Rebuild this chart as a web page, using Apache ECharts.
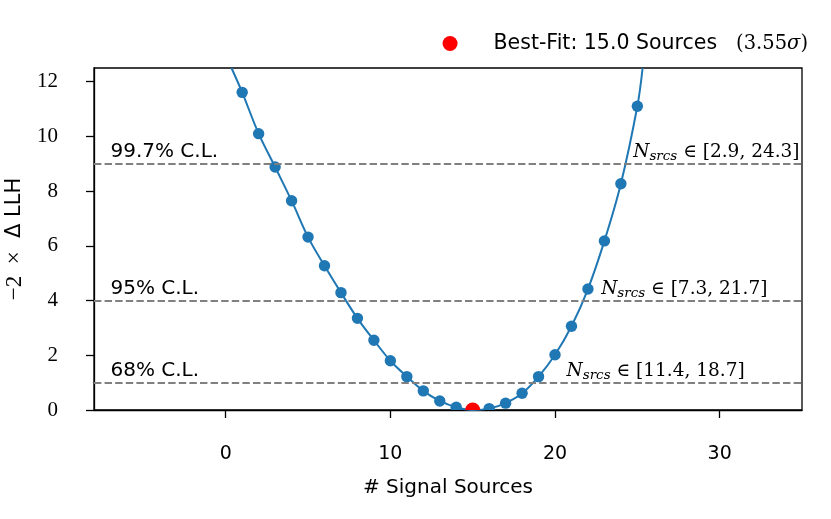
<!DOCTYPE html>
<html><head><meta charset="utf-8">
<script src="https://cdn.jsdelivr.net/npm/echarts@6/dist/echarts.min.js"></script>
<style>html,body{margin:0;padding:0;background:#fff}#c{width:831px;height:519px}</style>
</head><body><div id="c"></div>
<script>
// ---- data ----
const nSources = [1,2,3,4,5,6,7,8,9,10,11,12,13,14,15,16,17,18,19,20,21,22,23,24,25];
const llh = [11.61,10.10,8.88,7.65,6.32,5.27,4.29,3.35,2.55,1.80,1.22,0.70,0.33,0.10,0.00,0.05,0.25,0.61,1.22,2.02,3.06,4.42,6.18,8.27,11.10];
const curveStart = [0.35, 12.5];   // where the fitted curve leaves the top of the frame
const curveEnd = [25.32, 12.5];
const bestFit = [15.0, 0.0];
const significance = '3.55';
const clLevels = [1, 4, 9];
const clNames = ['68% C.L.', '95% C.L.', '99.7% C.L.'];
const clLow = [11.4, 7.3, 2.9];
const clHigh = [18.7, 21.7, 24.3];
const xTicks = [0, 10, 20, 30];
const yTicks = [0, 2, 4, 6, 8, 10, 12];

// ---- layout/style constants ----
const BLUE = '#1f77b4';
const leftLabelX = -7;
const rightLabelX = [20.7, 22.8, 24.75];
const labelLift = 0.2;

const chart = echarts.init(document.getElementById('c'));
const curveData = [curveStart].concat(nSources.map((x, i) => [x, llh[i]])).concat([curveEnd]);

const option = {
  animation: false,
  backgroundColor: '#fff',
  grid: {left: 94, right: 29, top: 68, bottom: 109, outerBoundsMode: 'none', containLabel: false,
         show: true, borderColor: '#000', borderWidth: 1.3, backgroundColor: 'transparent'},
  legend: {
    right: 18, top: 28, selectedMode: false,
    itemWidth: 15, itemHeight: 15,
    data: [{name: 'bestfit', icon: 'circle'}],
    formatter: () => '{sp|}Best-Fit: 15.0 Sources{g|}{m|(' + significance + '}{i|σ}{m|)}',
    textStyle: {
      fontFamily: 'DejaVu Sans', fontSize: 20.5, color: '#000',
      rich: {
        sp: {width: 31},
        g: {width: 19},
        m: {fontFamily: 'DejaVu Serif', fontSize: 19.5, color: '#000'},
        i: {fontFamily: 'DejaVu Serif', fontStyle: 'italic', fontSize: 19.5, color: '#000'}
      }
    }
  },
  xAxis: {
    type: 'value', min: -8, max: 35,
    axisLine: {show: true, onZero: false, lineStyle: {color: '#000', width: 1.3}},
    axisTick: {show: true, customValues: xTicks, length: 8, lineStyle: {color: '#000', width: 1.3}},
    axisLabel: {customValues: xTicks, margin: 35, fontFamily: 'DejaVu Sans', fontSize: 19, color: '#000'},
    splitLine: {show: false},
    name: '# Signal Sources', nameLocation: 'middle', nameGap: 68,
    nameTextStyle: {fontFamily: 'DejaVu Sans', fontSize: 20, color: '#000'}
  },
  yAxis: {
    type: 'value', min: 0, max: 12.5,
    axisLine: {show: true, onZero: false, lineStyle: {color: '#000', width: 1.3}},
    axisTick: {show: true, customValues: yTicks, length: 8, lineStyle: {color: '#000', width: 1.3}},
    axisLabel: {customValues: yTicks, margin: 36, fontFamily: 'Liberation Serif', fontSize: 21, color: '#000'},
    splitLine: {show: false},
    name: '{m|−2  ×}  Δ LLH', nameLocation: 'middle', nameGap: 68,
    nameTextStyle: {
      fontFamily: 'DejaVu Sans', fontSize: 21, color: '#000',
      rich: {m: {fontFamily: 'Liberation Serif', fontSize: 23, color: '#000'}}
    }
  },
  series: [
    {
      type: 'line', data: [], silent: true, z: 1,
      markLine: {
        silent: true, symbol: 'none', animation: false,
        label: {show: false},
        lineStyle: {color: '#808080', width: 2, type: [7.4, 3.2]},
        data: clLevels.map(v => ({yAxis: v}))
      }
    },
    {
      type: 'line', data: curveData, smooth: 0.35, symbol: 'none', showSymbol: false,
      clip: true, silent: true, z: 2,
      lineStyle: {color: BLUE, width: 2}
    },
    {
      type: 'custom', name: 'points', clip: true, silent: true, z: 3,
      data: nSources.map((x, i) => [x, llh[i]]),
      renderItem: (params, api) => {
        const p = api.coord([api.value(0), api.value(1)]);
        return {type: 'circle', shape: {cx: p[0], cy: p[1], r: 5.7}, style: {fill: BLUE}};
      }
    },
    {
      type: 'custom', name: 'bestfit', clip: true, silent: true, z: 4,
      itemStyle: {color: '#ff0000'},
      data: [bestFit],
      renderItem: (params, api) => {
        const p = api.coord([api.value(0), api.value(1)]);
        return {type: 'circle', shape: {cx: p[0], cy: p[1], r: 7.6}, style: {fill: '#ff0000'}};
      }
    },
    {
      type: 'custom', name: 'labels', clip: false, silent: true, z: 5,
      data: clLevels.map((v, i) => [rightLabelX[i], v]),
      renderItem: (params, api) => {
        const i = params.dataIndex;
        const lvl = clLevels[i];
        const pl = api.coord([leftLabelX, lvl + labelLift]);
        const pr = api.coord([rightLabelX[i], lvl + labelLift]);
        return {
          type: 'group',
          children: [
            {type: 'text', x: pl[0], y: pl[1] + 4,
             style: {text: clNames[i], fill: '#000', font: '20px "DejaVu Sans"', align: 'left', verticalAlign: 'bottom'}},
            {type: 'text', x: pr[0], y: pr[1] + 5.7,
             style: {
               text: '{n|N}{s|srcs}{r| ∈ [' + clLow[i].toFixed(1) + ', ' + clHigh[i].toFixed(1) + ']}',
               align: 'left', verticalAlign: 'bottom', fill: '#000',
               rich: {
                 n: {fontFamily: 'DejaVu Serif', fontStyle: 'italic', fontSize: 18.5, lineHeight: 24, fill: '#000'},
                 s: {fontFamily: 'DejaVu Serif', fontStyle: 'italic', fontSize: 13.5, lineHeight: 16, verticalAlign: 'bottom', fill: '#000'},
                 r: {fontFamily: 'DejaVu Serif', fontSize: 18.5, lineHeight: 24, fill: '#000'}
               }
             }}
          ]
        };
      }
    }
  ]
};
chart.setOption(option);
</script>
</body></html>
